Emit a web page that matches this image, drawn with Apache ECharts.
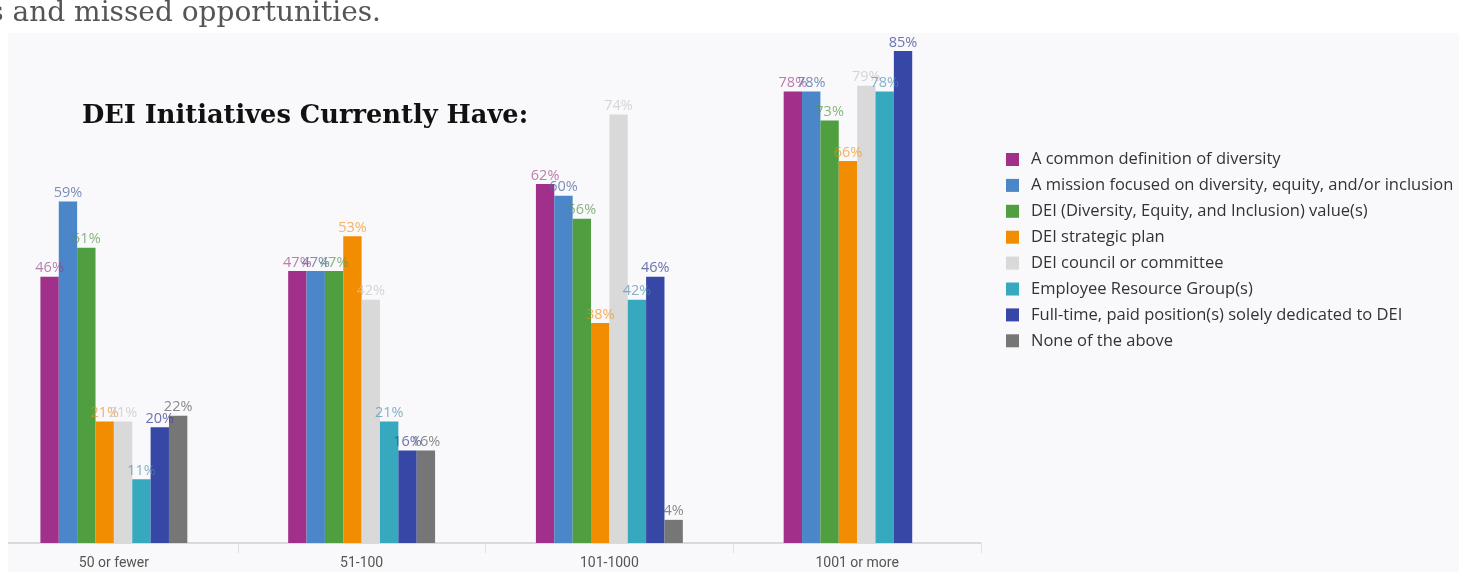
<!DOCTYPE html>
<html>
<head>
<meta charset="utf-8">
<title>DEI Initiatives Currently Have</title>
<script src="https://cdn.jsdelivr.net/npm/echarts@6/dist/echarts.min.js"></script>
<style>
  html, body { margin: 0; padding: 0; background: #ffffff; overflow: hidden; }
  body { width: 1459px; height: 572px; position: relative; }
  /* the chart canvas starts 18px left of the page so the first category band is cut off at the panel edge */
  #chart { position: absolute; left: -18px; top: 0; width: 1477px; height: 572px; }
</style>
</head>
<body>
<div id="chart"></div>
<script>
// Organisation size groups along the x axis
const categories = ['50 or fewer', '51-100', '101-1000', '1001 or more'];

// Share of organisations (%) with each initiative, one value per size group
const commonDefinition   = [46, 47, 62, 78];
const missionFocused     = [59, 47, 60, 78];
const deiValues          = [51, 47, 56, 73];
const strategicPlan      = [21, 53, 38, 66];
const councilCommittee   = [21, 42, 74, 79];
const resourceGroups     = [11, 21, 42, 78];
const fullTimePosition   = [20, 16, 46, 85];
const noneOfTheAbove     = [22, 16, 4, null];

const seriesNames = [
  'A common definition of diversity',
  'A mission focused on diversity, equity, and/or inclusion',
  'DEI (Diversity, Equity, and Inclusion) value(s)',
  'DEI strategic plan',
  'DEI council or committee',
  'Employee Resource Group(s)',
  'Full-time, paid position(s) solely dedicated to DEI',
  'None of the above'
];
const seriesData = [
  commonDefinition, missionFocused, deiValues, strategicPlan,
  councilCommittee, resourceGroups, fullTimePosition, noneOfTheAbove
];
const barColors = ['#a0308a', '#4a86c8', '#4f9e40', '#f28c00', '#d9d9d9', '#36a9bf', '#3747a6', '#767676'];
const labelColors = [
  'rgba(150,60,130,0.65)', 'rgba(80,105,160,0.75)', 'rgba(90,150,75,0.7)', 'rgba(240,140,20,0.65)',
  'rgba(200,200,200,0.75)', 'rgba(70,140,170,0.65)', 'rgba(60,70,150,0.75)', 'rgba(110,110,110,0.8)'
];

const panelColor = '#f9f9fb';
const shift = 18; // horizontal offset of the canvas relative to the page

const chart = echarts.init(document.getElementById('chart'), null, { renderer: 'canvas' });

const series = seriesNames.map((name, i) => ({
  name: name,
  type: 'bar',
  data: seriesData[i],
  barGap: '0%',
  barCategoryGap: '40.7%',
  itemStyle: { color: barColors[i] },
  label: {
    show: true,
    position: 'top',
    distance: 1,
    formatter: '{c}%',
    color: labelColors[i],
    fontFamily: 'Open Sans',
    fontSize: 14.5
  },
  emphasis: { disabled: true }
}));

chart.setOption({
  backgroundColor: panelColor,
  animation: false,
  title: {
    text: 'DEI Initiatives Currently Have:',
    left: 82 + shift - 5,
    top: 98,
    textStyle: {
      fontFamily: 'DejaVu Serif',
      fontWeight: 'bold',
      fontSize: 25.7,
      color: '#111111'
    }
  },
  legend: {
    orient: 'vertical',
    left: 1001 + shift,
    top: 146,
    icon: 'rect',
    itemWidth: 13,
    itemHeight: 13,
    itemGap: 8.9,
    selectedMode: false,
    data: seriesNames,
    textStyle: {
      fontFamily: 'Open Sans',
      fontSize: 16.5,
      color: '#333333',
      padding: [0, 0, 0, 7]
    }
  },
  grid: {
    left: shift - 10,
    width: 991,
    top: 22,
    bottom: 29,
    containLabel: false
  },
  xAxis: {
    type: 'category',
    data: categories,
    axisLine: { lineStyle: { color: '#cfcfd4', width: 1.5 } },
    axisTick: { show: true, length: 10, lineStyle: { color: '#e0e0e4' } },
    axisLabel: {
      color: '#555555',
      fontFamily: 'Roboto',
      fontSize: 14,
      margin: 13
    }
  },
  yAxis: {
    type: 'value',
    min: 0,
    max: 90,
    show: false,
    splitLine: { show: false }
  },
  graphic: [
    // white page margin to the left of the panel
    { type: 'rect', left: 0, top: 0, shape: { width: 8 + shift, height: 572 }, style: { fill: '#ffffff' }, z: 100 },
    // white page area above the panel
    { type: 'rect', left: 0, top: 0, shape: { width: 1477, height: 33 }, style: { fill: '#ffffff' }, z: 100 },
    {
      type: 'text',
      z: 101,
      style: {
        text: 's and missed opportunities.',
        x: 381 + shift,
        y: 0,
        align: 'right',
        verticalAlign: 'top',
        fill: '#555555',
        font: '28px "DejaVu Serif"'
      }
    }
  ],
  series: series
});
</script>
</body>
</html>
